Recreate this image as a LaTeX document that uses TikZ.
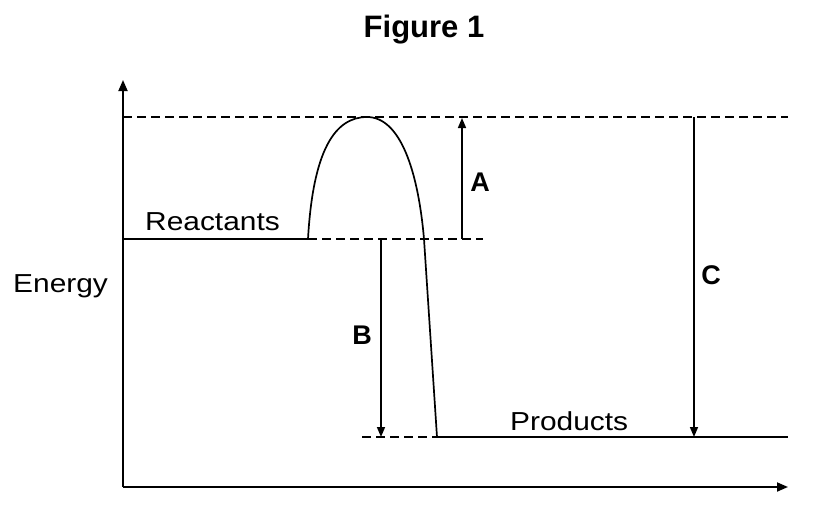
\documentclass[tikz,border=0pt]{standalone}
\usepackage{fontspec}
\setmainfont{Liberation Sans}[FakeStretch=1.15]
\newfontfamily\plainfont{Liberation Sans}
\usetikzlibrary{arrows.meta}
\begin{document}
\begin{tikzpicture}[x=1pt,y=-1pt,
  axis/.style={line width=1.8pt,-{Triangle[length=11pt,width=9pt]}},
  dimarrow/.style={line width=1.6pt,-{Triangle[length=10pt,width=8pt]}},
  guide/.style={line width=1.5pt,dash pattern=on 9pt off 5pt},
  levelline/.style={line width=2pt},
  curveline/.style={line width=1.7pt},
  lbl/.style={font=\fontsize{26}{30}\selectfont, inner sep=0pt},
  letter/.style={font=\plainfont\fontsize{27}{30}\selectfont\bfseries, inner sep=0pt},
  titlestyle/.style={font=\plainfont\fontsize{31}{36}\selectfont\bfseries, inner sep=0pt}]
\useasboundingbox (0,0) rectangle (836,517);
% axes
\coordinate (O) at (123,487);
\coordinate (ytop) at (123,80);
\coordinate (xend) at (788,487);
\draw[axis] (O) -- (ytop);
\draw[axis] (O) -- (xend);
% key points
\coordinate (rl) at (123,239);
\coordinate (rs) at (308,239);
\coordinate (rdash) at (483,239);
\coordinate (peak) at (367,117);
\coordinate (cross) at (424,239);
\coordinate (pe) at (437,437);
\coordinate (pdash) at (362,437);
\coordinate (pr) at (788,437);
\coordinate (tl) at (123,117);
\coordinate (tr) at (788,117);
% levels
\draw[levelline] (rl) -- (rs);
\draw[guide] (rs) -- (rdash);
\draw[guide] (tl) -- (tr);
\draw[guide] (pdash) -- (pe);
\draw[levelline] (pe) -- (pr);
% reaction curve
\draw[curveline] (rs) .. controls (313,150) and (335,117) .. (peak)
  .. controls (400,117) and (418,170) .. (cross) -- (pe);
% dimension arrows
\coordinate (a0) at (462,239);
\coordinate (a1) at (462,118);
\coordinate (b0) at (381,239);
\coordinate (b1) at (381,437);
\coordinate (c0) at (694,117);
\coordinate (c1) at (694,437);
\draw[dimarrow] (a0) -- (a1);
\draw[dimarrow] (b0) -- (b1);
\draw[dimarrow] (c0) -- (c1);
% labels
\node[titlestyle, anchor=base] (title) at (424,37) {Figure 1};
\node[lbl, anchor=base west] (react) at (145,230) {Reactants};
\node[lbl, anchor=base west] (prod) at (510,430) {Products};
\node[lbl, anchor=base west] (energy) at (13,292) {Energy};
\node[letter, anchor=base] (la) at (480,191) {A};
\node[letter, anchor=base] (lb) at (362,344) {B};
\node[letter, anchor=base] (lc) at (711,284) {C};
\end{tikzpicture}
\end{document}
